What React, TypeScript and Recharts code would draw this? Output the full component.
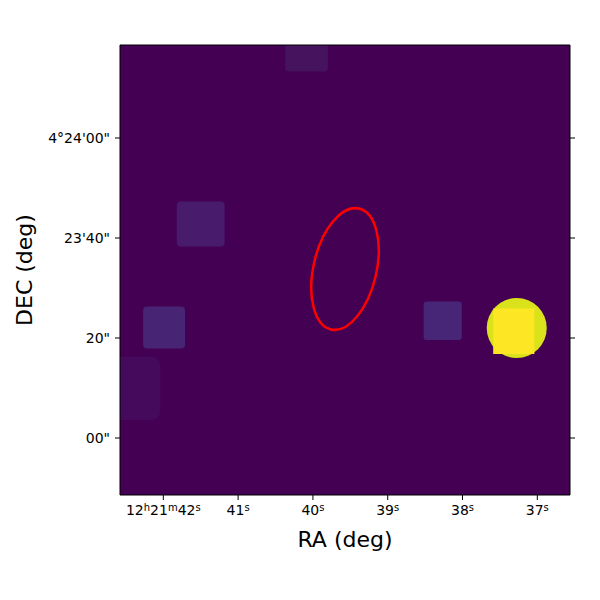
import React from "react";
import { ScatterChart, XAxis, YAxis, ReferenceArea, Label } from "recharts";

// RA in seconds of 12h21m, DEC in arcsec above 4°23'00"
const RA_TICKS = [42, 41, 40, 39, 38, 37];
const RA_TICK_PARTS: [string, string][][] = [
  [["12", "h"], ["21", "m"], ["42", "s"]],
  [["41", "s"]],
  [["40", "s"]],
  [["39", "s"]],
  [["38", "s"]],
  [["37", "s"]],
];
const DEC_TICKS = [0, 20, 40, 60];
const DEC_TICK_LABELS = ['00"', '20"', "23'40\"", "4°24'00\""];

const RA_DOMAIN = [36.563, 42.579];
const DEC_DOMAIN = [-11.4, 78.6];
const ARCSEC_PER_RA_SEC = 15 * Math.cos((4.39 * Math.PI) / 180);

// faint sources (image cutout blobs)
const BLOB_RA_MIN = [39.8, 41.18, 41.71, 42.04, 38.01];
const BLOB_RA_MAX = [40.37, 41.82, 42.27, 42.9, 38.52];
const BLOB_DEC_MIN = [73.3, 38.3, 17.9, 3.6, 19.6];
const BLOB_DEC_MAX = [80.0, 47.3, 26.3, 16.3, 27.3];
const BLOB_FILLS = ["#46135f", "#481b6d", "#482475", "#450a5c", "#482677"];
const BLOB_CORNERS = [4, 4, 4, 9, 3];

// bright star
const STAR_RA = 37.275;
const STAR_DEC = 22.0;
const STAR_RADIUS = 6.0;
const STAR_CORE_RA = [37.04, 37.59];
const STAR_CORE_DEC = [16.8, 25.9];

// aperture ellipse
const ELLIPSE_RA = 39.571;
const ELLIPSE_DEC = 33.8;
const ELLIPSE_SEMI_MAJOR = 12.4;
const ELLIPSE_SEMI_MINOR = 6.3;
const ELLIPSE_ANGLE = 13;

const FONT = "DejaVu Sans";

function RaTick({ x, y, payload }: any) {
  const parts = RA_TICK_PARTS[RA_TICKS.indexOf(payload.value)] ?? [];
  return (
    <text x={x} y={y + 10} textAnchor="middle" fontSize={14} fill="#000" fontFamily={FONT}>
      {parts.map(([main, sup], k) => (
        <React.Fragment key={k}>
          <tspan dy={k > 0 ? 4.5 : 0}>{main}</tspan>
          <tspan fontSize={10} dy={-4.5}>{sup}</tspan>
        </React.Fragment>
      ))}
    </text>
  );
}

function DecTick({ x, y, payload }: any) {
  return (
    <text x={x} y={y} dy="0.36em" textAnchor="end" fontSize={14} fill="#000" fontFamily={FONT}>
      {DEC_TICK_LABELS[DEC_TICKS.indexOf(payload.value)]}
    </text>
  );
}

// tick marks only, no label (top and right frame)
const NoLabel = () => <g />;

const boxShape = (fill: string, r: number) => (p: any) => (
  <rect x={p.x} y={p.y} width={p.width} height={p.height} rx={r} ry={r} fill={fill} clipPath={p.clipPath} />
);

const ellipseShape = (fill: string, stroke: string, angle: number) => (p: any) => {
  const cx = p.x + p.width / 2;
  const cy = p.y + p.height / 2;
  return (
    <ellipse
      cx={cx}
      cy={cy}
      rx={p.width / 2}
      ry={p.height / 2}
      fill={fill}
      stroke={stroke}
      strokeWidth={stroke === "none" ? 0 : 2.5}
      transform={`rotate(${angle} ${cx} ${cy})`}
      clipPath={p.clipPath}
    />
  );
};

export default function App() {
  const starHalfRa = STAR_RADIUS / ARCSEC_PER_RA_SEC;
  const ellHalfRa = ELLIPSE_SEMI_MINOR / ARCSEC_PER_RA_SEC;
  return (
    <div style={{ position: "absolute", left: 0, top: 0, width: 600, height: 600, background: "#fff" }}>
      <ScatterChart width={600} height={600} margin={{ top: 40, right: 25, bottom: 75, left: 60 }}>
        <XAxis
          type="number"
          dataKey="ra"
          domain={RA_DOMAIN}
          allowDataOverflow
          reversed
          ticks={RA_TICKS}
          interval={0}
          height={30}
          tickSize={5}
          tickMargin={5}
          tick={<RaTick />}
          axisLine={{ stroke: "#000" }}
          tickLine={{ stroke: "#000" }}
        >
          <Label
            content={({ viewBox }: any) => (
              <text
                x={viewBox.x + viewBox.width / 2}
                y={viewBox.y + 52}
                textAnchor="middle"
                fontSize={22}
                fill="#000"
                fontFamily={FONT}
              >
                RA (deg)
              </text>
            )}
          />
        </XAxis>
        <XAxis
          xAxisId="top"
          orientation="top"
          type="number"
          domain={RA_DOMAIN}
          allowDataOverflow
          reversed
          ticks={RA_TICKS}
          interval={0}
          height={5}
          tickSize={5}
          tick={<NoLabel />}
          axisLine={{ stroke: "#000" }}
          tickLine={{ stroke: "#000" }}
        />
        <YAxis
          type="number"
          dataKey="dec"
          domain={DEC_DOMAIN}
          allowDataOverflow
          ticks={DEC_TICKS}
          interval={0}
          width={60}
          tickSize={5}
          tickMargin={5}
          tick={<DecTick />}
          axisLine={{ stroke: "#000" }}
          tickLine={{ stroke: "#000" }}
        >
          <Label
            content={({ viewBox }: any) => {
              const lx = viewBox.x - 28;
              const ly = viewBox.y + viewBox.height / 2;
              return (
                <text
                  x={lx}
                  y={ly}
                  textAnchor="middle"
                  fontSize={22}
                  fill="#000"
                  fontFamily={FONT}
                  transform={`rotate(-90 ${lx} ${ly})`}
                >
                  DEC (deg)
                </text>
              );
            }}
          />
        </YAxis>
        <YAxis
          yAxisId="right"
          orientation="right"
          type="number"
          domain={DEC_DOMAIN}
          allowDataOverflow
          ticks={DEC_TICKS}
          interval={0}
          width={5}
          tickSize={5}
          tick={<NoLabel />}
          axisLine={{ stroke: "#000" }}
          tickLine={{ stroke: "#000" }}
        />

        <ReferenceArea
          x1={RA_DOMAIN[0]}
          x2={RA_DOMAIN[1]}
          y1={DEC_DOMAIN[0]}
          y2={DEC_DOMAIN[1]}
          ifOverflow="hidden"
          shape={boxShape("#440154", 0)}
        />
        {BLOB_FILLS.map((fill, i) => (
          <ReferenceArea
            key={`blob-${i}`}
            x1={BLOB_RA_MIN[i]}
            x2={BLOB_RA_MAX[i]}
            y1={BLOB_DEC_MIN[i]}
            y2={BLOB_DEC_MAX[i]}
            ifOverflow="hidden"
            shape={boxShape(fill, BLOB_CORNERS[i])}
          />
        ))}
        <ReferenceArea
          x1={STAR_RA - starHalfRa}
          x2={STAR_RA + starHalfRa}
          y1={STAR_DEC - STAR_RADIUS}
          y2={STAR_DEC + STAR_RADIUS}
          ifOverflow="hidden"
          shape={ellipseShape("#d9e21a", "none", 0)}
        />
        <ReferenceArea
          x1={STAR_CORE_RA[0]}
          x2={STAR_CORE_RA[1]}
          y1={STAR_CORE_DEC[0]}
          y2={STAR_CORE_DEC[1]}
          ifOverflow="hidden"
          shape={boxShape("#fde725", 0)}
        />
        <ReferenceArea
          x1={ELLIPSE_RA - ellHalfRa}
          x2={ELLIPSE_RA + ellHalfRa}
          y1={ELLIPSE_DEC - ELLIPSE_SEMI_MAJOR}
          y2={ELLIPSE_DEC + ELLIPSE_SEMI_MAJOR}
          ifOverflow="hidden"
          shape={ellipseShape("none", "#ff0000", ELLIPSE_ANGLE)}
        />
      </ScatterChart>
    </div>
  );
}
